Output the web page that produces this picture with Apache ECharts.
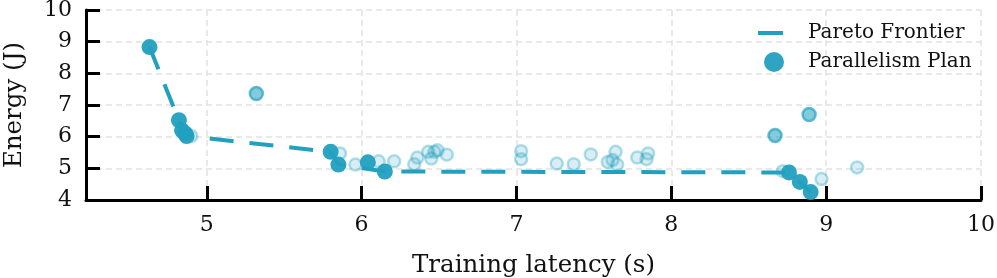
<!DOCTYPE html>
<html>
<head>
<meta charset="utf-8">
<script src="https://cdn.jsdelivr.net/npm/echarts@6/dist/echarts.min.js"></script>
<style>
html,body{margin:0;padding:0;background:#fff;}
#chart{width:997px;height:278px;}
</style>
</head>
<body>
<div id="chart"></div>
<script>
// Pareto frontier (training latency s, energy J)
const paretoLine = [[4.63,8.83],[4.82,6.52],[4.84,6.2],[4.87,6.02],[5.80,5.52],[5.85,5.12],[6.15,4.90],[8.76,4.87],[8.83,4.57],[8.90,4.25]];
// Plans on the frontier (opaque markers)
const frontierPlans = [[4.63,8.83],[4.82,6.52],[4.84,6.2],[4.86,6.1],[4.87,6.02],[5.80,5.52],[5.85,5.12],[6.04,5.19],[6.15,4.90],[8.76,4.87],[8.83,4.57],[8.90,4.25]];
// Plans drawn more densely (overlapping)
const densePlans = [[5.32,7.36],[8.67,6.04],[8.89,6.70]];
// Other explored plans (faded markers)
const otherPlans = [[4.90,6.02],[5.86,5.47],[5.96,5.12],[6.11,5.22],[6.21,5.22],[6.34,5.13],[6.36,5.34],[6.43,5.52],[6.47,5.52],[6.45,5.31],[6.49,5.57],[6.55,5.43],[7.03,5.54],[7.03,5.29],[7.26,5.15],[7.37,5.13],[7.48,5.44],[7.59,5.20],[7.64,5.52],[7.65,5.12],[7.62,5.26],[7.78,5.34],[7.85,5.47],[7.84,5.29],[8.72,4.91],[8.97,4.66],[9.20,5.03]];
const xMin = 4.22, xMax = 10;
const yMin = 4, yMax = 10;

const C = '#22a0bf';
const FONT = 'DejaVu Serif';
const chart = echarts.init(document.getElementById('chart'));
chart.setOption({
  animation: false,
  backgroundColor: '#fff',
  grid: {left: 86, right: 16, top: 10, bottom: 78, containLabel: false, outerBoundsMode: 'none'},
  legend: [
    {data: [{name: 'Pareto Frontier', icon: 'rect'}], left: 753, top: 18, itemWidth: 25, itemHeight: 4,
     textStyle: {fontFamily: FONT, fontSize: 20, color: '#111', padding: [0,0,0,20]}},
    {data: [{name: 'Parallelism Plan', icon: 'circle'}], left: 759, top: 47, itemWidth: 20, itemHeight: 20,
     textStyle: {fontFamily: FONT, fontSize: 20, color: '#111', padding: [0,0,0,19]}}
  ],
  xAxis: {
    type: 'value', min: xMin, max: xMax, minInterval: 1, maxInterval: 1,
    name: 'Training latency (s)', nameLocation: 'middle', nameGap: 53,
    nameTextStyle: {fontFamily: FONT, fontSize: 24.5, color: '#111'},
    axisLine: {show: true, lineStyle: {color: '#000', width: 3}},
    axisTick: {show: true, inside: true, length: 14, lineStyle: {color: '#000', width: 3}},
    axisLabel: {showMinLabel: false, fontFamily: FONT, fontSize: 22, color: '#111', margin: 14},
    splitLine: {show: true, lineStyle: {color: '#e2e2e2', width: 1.5, type: [6,4]}}
  },
  yAxis: {
    type: 'value', min: yMin, max: yMax, interval: 1,
    name: 'Energy (J)', nameLocation: 'middle', nameGap: 59, nameRotate: 90,
    nameTextStyle: {fontFamily: FONT, fontSize: 24.5, color: '#111'},
    axisLine: {show: true, lineStyle: {color: '#000', width: 3}},
    axisTick: {show: true, inside: true, length: 14, lineStyle: {color: '#000', width: 3}},
    axisLabel: {fontFamily: FONT, fontSize: 22, color: '#111', margin: 14},
    splitLine: {show: true, lineStyle: {color: '#e2e2e2', width: 1.5, type: [6,4]}}
  },
  series: [
    {type: 'scatter', name: 'Other', data: otherPlans, symbolSize: 12, z: 2,
     itemStyle: {color: 'rgba(34,160,191,0.22)', borderColor: 'rgba(34,160,191,0.42)', borderWidth: 2.5}},
    {type: 'scatter', name: 'Dense', data: densePlans, symbolSize: 13, z: 3,
     itemStyle: {color: 'rgba(34,160,191,0.7)', borderColor: 'rgba(34,160,191,0.85)', borderWidth: 2.5}},
    {type: 'line', name: 'Pareto Frontier', data: paretoLine, symbol: 'none', z: 4,
     lineStyle: {color: C, width: 4, type: [24,16]}, itemStyle: {color: C}},
    {type: 'scatter', name: 'Parallelism Plan', data: frontierPlans, symbolSize: 16, z: 5,
     itemStyle: {color: C, opacity: 0.95}}
  ]
});
</script>
</body>
</html>
